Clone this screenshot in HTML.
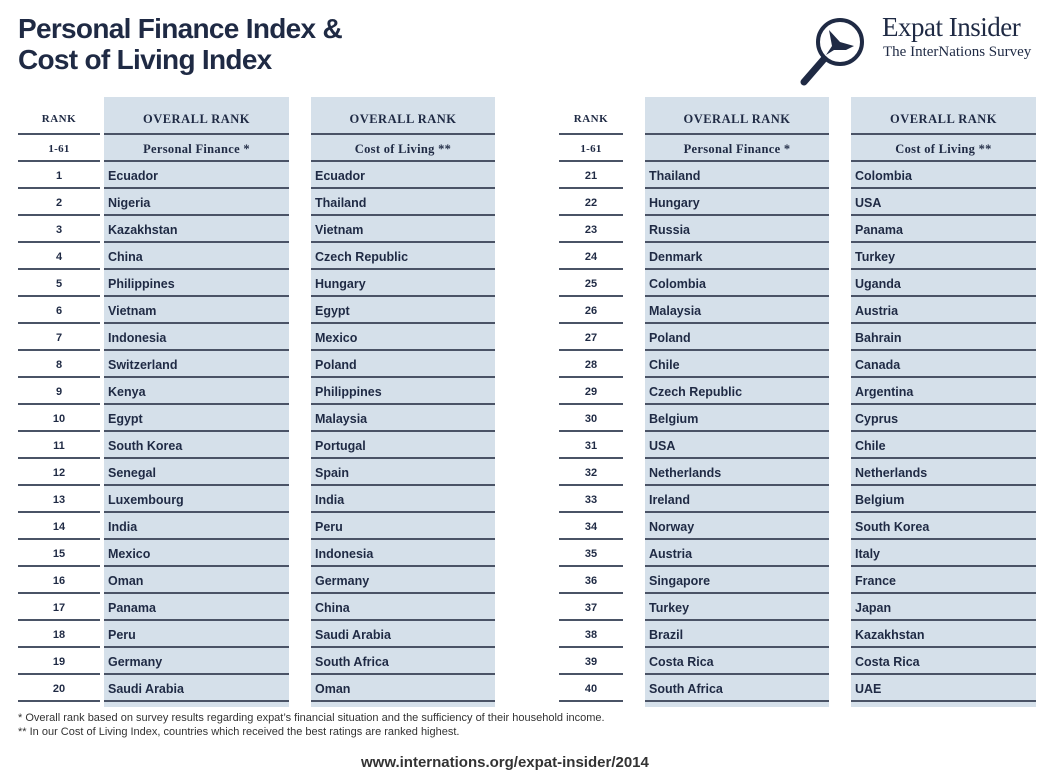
<!DOCTYPE html>
<html><head><meta charset="utf-8"><style>
body{margin:0;width:1050px;height:781px;background:#fff;position:relative;overflow:hidden;font-family:"Liberation Sans",sans-serif;color:#1f2a44}
h1{position:absolute;left:18px;top:13px;margin:0;font-size:28px;line-height:31px;font-weight:bold;letter-spacing:-0.7px;color:#1f2a44}
.col{position:absolute;top:97px}
.col.bg{background:#d5e0ea;height:610px}
.r{box-sizing:border-box;height:27px;border-bottom:2px solid #4a5366;font-size:12.5px;font-weight:bold;line-height:28px;padding-left:4px}
.rk .r{text-align:center;padding-left:0;font-size:11px}
.h1r{height:38px;line-height:44px;font-family:"Liberation Serif",serif;font-size:12.5px;font-weight:bold;text-align:center;padding:0;letter-spacing:.5px}
.h2r{font-family:"Liberation Serif",serif;font-size:12.5px;text-align:center;padding:0;letter-spacing:.3px}
.note{position:absolute;left:18px;font-size:11px;color:#333}
</style></head><body>
<h1>Personal Finance Index &amp;<br>Cost of Living Index</h1>
<svg style="position:absolute;left:796px;top:10px" width="80" height="80" viewBox="0 0 80 80">
<circle cx="44" cy="32" r="22" fill="none" stroke="#1f2a44" stroke-width="4"/>
<line x1="28" y1="49" x2="8" y2="72" stroke="#1f2a44" stroke-width="7" stroke-linecap="round"/>
<path d="M33 20 L44 32 L58 36 L50 40 L38 40 L30 45 L36 36 Z" fill="#1f2a44"/>
</svg>
<div style="position:absolute;left:882px;top:12px;font-family:'Liberation Serif',serif;font-size:27px;color:#1f2a44;letter-spacing:-0.5px">Expat Insider</div>
<div style="position:absolute;left:883px;top:44px;font-family:'Liberation Serif',serif;font-size:15px;color:#1f2a44">The InterNations Survey</div>

<div class="col rk" style="left:18px;width:82px">
<div class="r h1r">RANK</div><div class="r h2r">1-61</div>
<div class="r">1</div><div class="r">2</div><div class="r">3</div><div class="r">4</div><div class="r">5</div><div class="r">6</div><div class="r">7</div><div class="r">8</div><div class="r">9</div><div class="r">10</div><div class="r">11</div><div class="r">12</div><div class="r">13</div><div class="r">14</div><div class="r">15</div><div class="r">16</div><div class="r">17</div><div class="r">18</div><div class="r">19</div><div class="r">20</div>
</div>
<div class="col bg" style="left:104px;width:185px">
<div class="r h1r">OVERALL RANK</div><div class="r h2r">Personal Finance *</div>
<div class="r">Ecuador</div><div class="r">Nigeria</div><div class="r">Kazakhstan</div><div class="r">China</div><div class="r">Philippines</div><div class="r">Vietnam</div><div class="r">Indonesia</div><div class="r">Switzerland</div><div class="r">Kenya</div><div class="r">Egypt</div><div class="r">South Korea</div><div class="r">Senegal</div><div class="r">Luxembourg</div><div class="r">India</div><div class="r">Mexico</div><div class="r">Oman</div><div class="r">Panama</div><div class="r">Peru</div><div class="r">Germany</div><div class="r">Saudi Arabia</div>
</div>
<div class="col bg" style="left:311px;width:184px">
<div class="r h1r">OVERALL RANK</div><div class="r h2r">Cost of Living **</div>
<div class="r">Ecuador</div><div class="r">Thailand</div><div class="r">Vietnam</div><div class="r">Czech Republic</div><div class="r">Hungary</div><div class="r">Egypt</div><div class="r">Mexico</div><div class="r">Poland</div><div class="r">Philippines</div><div class="r">Malaysia</div><div class="r">Portugal</div><div class="r">Spain</div><div class="r">India</div><div class="r">Peru</div><div class="r">Indonesia</div><div class="r">Germany</div><div class="r">China</div><div class="r">Saudi Arabia</div><div class="r">South Africa</div><div class="r">Oman</div>
</div>
<div class="col rk" style="left:559px;width:64px">
<div class="r h1r">RANK</div><div class="r h2r">1-61</div>
<div class="r">21</div><div class="r">22</div><div class="r">23</div><div class="r">24</div><div class="r">25</div><div class="r">26</div><div class="r">27</div><div class="r">28</div><div class="r">29</div><div class="r">30</div><div class="r">31</div><div class="r">32</div><div class="r">33</div><div class="r">34</div><div class="r">35</div><div class="r">36</div><div class="r">37</div><div class="r">38</div><div class="r">39</div><div class="r">40</div>
</div>
<div class="col bg" style="left:645px;width:184px">
<div class="r h1r">OVERALL RANK</div><div class="r h2r">Personal Finance *</div>
<div class="r">Thailand</div><div class="r">Hungary</div><div class="r">Russia</div><div class="r">Denmark</div><div class="r">Colombia</div><div class="r">Malaysia</div><div class="r">Poland</div><div class="r">Chile</div><div class="r">Czech Republic</div><div class="r">Belgium</div><div class="r">USA</div><div class="r">Netherlands</div><div class="r">Ireland</div><div class="r">Norway</div><div class="r">Austria</div><div class="r">Singapore</div><div class="r">Turkey</div><div class="r">Brazil</div><div class="r">Costa Rica</div><div class="r">South Africa</div>
</div>
<div class="col bg" style="left:851px;width:185px">
<div class="r h1r">OVERALL RANK</div><div class="r h2r">Cost of Living **</div>
<div class="r">Colombia</div><div class="r">USA</div><div class="r">Panama</div><div class="r">Turkey</div><div class="r">Uganda</div><div class="r">Austria</div><div class="r">Bahrain</div><div class="r">Canada</div><div class="r">Argentina</div><div class="r">Cyprus</div><div class="r">Chile</div><div class="r">Netherlands</div><div class="r">Belgium</div><div class="r">South Korea</div><div class="r">Italy</div><div class="r">France</div><div class="r">Japan</div><div class="r">Kazakhstan</div><div class="r">Costa Rica</div><div class="r">UAE</div>
</div>

<div class="note" style="top:712px">* Overall rank based on survey results regarding expat’s financial situation and the sufficiency of their household income.</div>
<div class="note" style="top:726px">** In our Cost of Living Index, countries which received the best ratings are ranked highest.</div>
<div style="position:absolute;left:361px;top:754px;font-size:15px;font-weight:bold;color:#333">www.internations.org/expat-insider/2014</div>
</body></html>
